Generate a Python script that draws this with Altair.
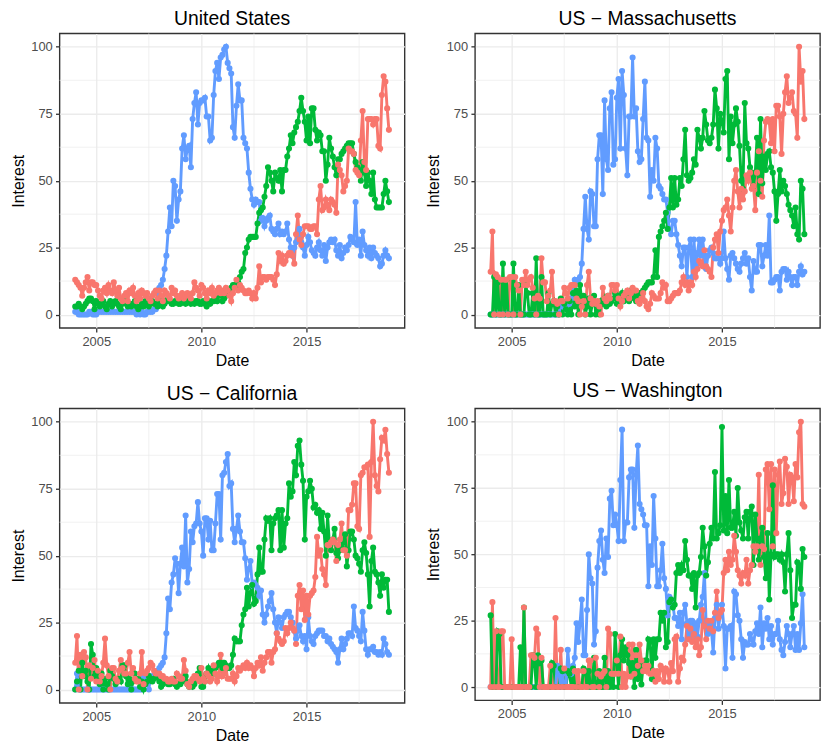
import altair as alt
import pandas as pd

# ---------------- data (monthly, Jan 2004 - Dec 2018) ----------------
START_YEAR = 2004
N_MONTHS = 180

US_BLUE = [
    1,1,0,0,0,0,0,0,1,1,0,0,
    0,1,1,1,1,1,1,1,1,1,1,1,
    1,1,1,1,1,1,1,1,1,1,1,0,
    1,0,1,0,0,1,1,1,1,2,2,3,
    10,11,13,17,22,31,40,33,50,48,35,43,
    46,62,67,58,62,63,55,73,79,83,71,79,
    80,80,81,74,74,65,66,82,91,94,88,96,
    97,99,100,94,92,90,70,66,78,86,80,80,
    66,64,62,53,47,43,41,43,42,42,35,36,
    33,35,36,37,32,31,30,32,34,30,31,30,
    31,34,28,25,22,25,27,30,32,27,25,22,
    26,29,27,24,23,22,25,27,24,22,26,20,
    25,27,28,27,28,24,22,26,21,23,25,24,
    26,29,28,27,42,26,28,22,31,26,24,22,
    25,21,25,23,22,21,18,19,22,24,22,21,
]
US_GREEN = [
    3,3,4,3,2,3,4,5,6,6,5,2,
    5,4,3,4,5,3,2,4,5,3,4,5,
    4,3,2,4,5,4,3,4,3,4,5,3,
    2,3,4,3,5,4,3,4,5,4,4,3,
    4,5,3,4,5,6,5,4,4,5,5,4,
    4,5,5,4,5,6,4,5,4,5,5,4,
    4,5,4,3,5,4,5,5,6,5,7,8,
    5,6,7,8,9,10,11,11,11,12,14,16,
    17,23,25,28,29,29,29,29,34,38,39,40,
    44,48,55,53,50,46,53,51,50,54,46,54,
    54,59,62,67,64,68,70,72,76,81,76,72,
    65,74,64,77,77,69,65,68,67,61,61,50,
    56,66,62,59,55,52,58,58,60,61,62,63,
    64,64,64,60,57,55,54,50,57,53,48,53,
    50,45,53,43,40,40,40,40,45,50,46,42,
]
US_RED = [
    13,12,11,10,7,10,12,14,9,12,12,11,
    11,9,7,6,9,10,8,11,9,8,12,9,
    7,10,6,5,7,8,5,9,8,10,7,5,
    8,6,9,8,7,8,6,5,7,8,9,6,
    9,7,5,9,8,7,6,10,8,9,7,6,
    7,8,6,7,8,7,6,8,12,10,9,7,
    11,10,8,6,9,8,10,7,8,9,10,8,
    9,8,10,9,7,5,8,10,13,9,11,10,
    9,8,8,9,8,6,8,6,10,18,12,14,
    14,13,14,14,14,13,11,15,23,20,22,19,
    20,22,23,23,22,19,30,37,28,26,30,33,
    33,33,32,32,33,33,30,43,48,39,40,43,
    41,39,43,42,41,38,56,54,52,46,48,50,
    62,61,61,60,54,53,52,65,76,57,54,73,
    73,73,71,73,73,63,62,82,89,87,77,69,
]

MA_BLUE = [
    0,0,0,0,0,0,0,0,0,0,0,0,
    0,0,0,0,0,0,0,0,0,0,0,0,
    0,0,0,0,0,0,0,0,0,0,0,0,
    0,0,0,0,5,3,4,3,5,4,6,10,
    13,12,13,14,19,32,44,32,28,46,45,33,
    33,58,67,67,45,80,58,54,77,83,56,58,
    81,88,62,91,82,62,52,74,74,96,74,77,
    61,57,58,73,87,66,65,44,54,50,66,62,
    48,47,45,43,43,38,32,30,35,35,30,26,
    22,18,25,25,14,25,28,14,28,18,23,28,
    22,28,22,17,22,24,25,23,21,21,21,19,
    21,31,21,17,13,22,23,21,19,17,16,19,
    21,23,19,21,14,9,20,16,16,26,26,18,
    22,26,22,37,12,12,13,14,14,9,16,17,
    17,13,16,14,11,14,14,11,16,18,15,16,
]
MA_GREEN = [
    0,0,14,0,12,0,0,19,0,13,0,0,
    0,19,0,0,11,0,0,0,11,8,0,0,
    8,0,21,0,0,14,0,0,0,8,0,4,
    5,0,3,0,6,0,4,2,0,5,0,8,
    3,9,0,11,5,7,0,3,6,0,4,7,
    0,3,0,5,4,6,3,7,4,5,6,8,
    4,7,6,8,5,6,7,5,9,8,6,5,
    7,8,8,9,10,11,12,12,12,14,24,14,
    29,31,33,35,38,32,40,51,40,51,41,43,
    51,48,58,69,52,50,51,53,58,56,69,66,
    62,66,76,71,65,64,66,71,84,77,62,75,
    72,68,88,91,58,74,64,71,77,72,63,50,
    47,79,64,62,55,53,48,53,66,45,73,49,
    59,54,60,61,55,53,46,35,45,54,46,50,
    48,45,41,39,37,33,40,30,28,50,47,30,
]
MA_RED = [
    16,31,0,15,14,0,13,0,13,13,0,14,
    14,0,14,11,9,0,13,11,16,11,13,14,
    10,6,0,7,6,21,12,12,5,7,9,16,
    5,5,4,0,5,5,10,8,6,10,11,11,
    11,6,5,0,3,5,0,11,16,6,4,5,
    4,5,3,0,10,6,5,7,6,11,11,9,
    11,6,3,5,7,8,9,6,8,10,9,9,
    5,4,6,8,5,3,2,4,8,7,6,6,
    6,8,12,10,11,5,5,6,7,8,8,8,
    9,12,14,11,12,9,12,11,16,14,17,20,
    19,18,24,18,17,16,14,25,28,30,23,31,
    35,39,40,43,37,31,40,50,54,46,40,47,
    43,46,52,50,53,47,48,39,53,61,50,44,
    65,72,73,72,64,73,61,78,78,74,60,75,
    83,89,79,81,83,76,75,66,100,87,91,73,
]

CA_BLUE = [
    0,6,0,0,0,0,0,0,0,0,0,0,
    0,0,0,0,0,0,0,0,0,0,0,0,
    0,0,0,0,0,0,0,0,0,0,0,0,
    0,0,0,5,3,4,0,5,4,5,6,7,
    8,9,10,12,21,34,30,40,43,49,47,36,
    47,53,46,65,40,45,59,55,61,62,70,62,
    59,50,64,64,56,63,52,52,62,73,73,56,
    80,81,85,88,76,77,60,55,60,65,59,55,
    55,49,41,45,48,39,40,39,38,35,37,28,
    25,28,31,33,36,30,25,21,27,25,23,27,
    28,29,29,27,25,22,19,22,24,20,18,20,
    15,27,20,18,17,20,21,22,22,22,20,20,
    18,19,17,16,15,14,10,15,19,15,17,19,
    21,21,20,31,23,22,20,18,29,22,15,13,
    15,15,16,14,14,13,14,13,19,17,14,13,
]
CA_GREEN = [
    0,3,7,0,10,5,7,3,0,17,13,5,
    8,5,2,6,0,4,2,0,7,5,4,2,
    3,4,3,9,9,5,2,4,0,3,6,4,
    4,1,3,0,2,3,5,4,3,4,6,5,
    3,1,2,3,3,2,2,3,4,2,1,2,
    2,3,4,5,2,1,3,1,2,4,6,8,
    1,1,3,6,8,5,7,6,8,9,10,10,
    8,10,9,8,8,9,13,19,18,18,18,24,
    28,30,38,31,36,39,32,33,43,53,44,44,
    56,64,63,64,52,62,64,65,67,52,67,53,
    62,64,77,72,74,85,80,91,93,84,78,56,
    72,74,78,75,68,69,66,67,60,66,59,50,
    65,55,52,56,60,51,49,52,53,55,58,46,
    52,59,59,56,50,49,47,44,52,55,51,43,
    31,48,53,44,43,40,35,43,38,41,41,29,
]
CA_RED = [
    10,20,0,13,5,14,12,0,9,4,8,11,
    3,7,3,5,10,19,9,5,0,8,8,4,
    3,7,11,8,6,6,10,14,6,8,4,3,
    3,6,14,2,6,7,8,10,9,7,6,6,
    6,5,5,4,4,3,3,4,3,3,6,5,
    4,4,11,7,2,1,3,4,5,5,4,3,
    8,4,3,6,5,3,4,9,6,3,5,13,
    5,6,8,4,4,4,6,3,5,8,7,8,
    9,8,10,8,9,8,5,8,10,9,12,7,
    10,12,14,14,10,14,15,21,19,18,17,18,
    23,21,23,25,23,22,17,35,39,30,37,26,
    35,28,35,36,37,42,57,50,52,45,43,39,
    54,54,55,56,55,48,54,56,62,52,52,50,
    67,67,69,77,77,61,60,80,81,83,83,84,
    57,85,100,80,76,74,86,94,93,97,88,81,
]

WA_BLUE = [
    0,0,0,0,0,0,0,0,0,0,0,0,
    0,0,0,0,0,0,0,0,0,0,0,0,
    0,0,0,0,0,0,0,0,0,0,0,0,
    0,0,8,5,0,5,0,0,14,6,5,8,
    11,24,17,24,33,12,12,29,50,41,39,16,
    21,45,55,59,48,43,56,49,71,74,61,65,
    61,55,78,97,55,62,62,79,82,82,60,80,
    91,69,67,65,61,61,38,53,46,72,56,38,
    38,44,54,41,37,27,34,33,31,26,26,23,
    28,18,28,31,24,18,25,25,21,24,19,25,
    31,34,43,23,20,24,21,13,26,31,22,27,
    31,23,7,22,22,23,11,36,35,27,25,18,
    11,17,16,16,20,18,16,21,24,20,30,15,
    24,22,26,18,23,16,20,20,25,18,14,12,
    17,23,20,15,20,23,14,20,14,24,35,15,
]
WA_GREEN = [
    27,0,0,0,21,20,0,0,0,0,0,0,
    0,0,0,0,0,15,0,30,0,0,0,0,
    12,10,0,12,9,10,0,0,0,0,0,9,
    8,0,0,0,7,6,0,0,6,5,0,7,
    0,0,0,0,0,7,6,0,6,0,0,11,
    0,0,6,0,0,11,0,6,0,5,0,20,
    9,0,12,18,10,15,12,9,4,9,0,14,
    3,8,1,8,10,10,18,17,3,18,11,18,
    18,28,25,28,15,17,32,33,30,31,43,46,
    43,46,44,55,48,42,42,37,43,30,42,43,
    49,60,53,42,47,54,60,56,81,56,58,61,
    98,59,72,58,78,60,60,66,57,75,62,59,
    56,64,66,56,66,68,46,65,56,48,56,60,
    49,41,58,33,50,76,49,50,50,48,50,47,
    36,50,58,44,26,31,31,47,46,37,52,49,
]
WA_RED = [
    0,32,0,21,0,0,21,21,0,0,0,0,
    18,0,0,0,0,0,0,30,0,0,0,12,
    12,11,22,20,0,11,0,0,0,0,8,0,
    0,26,0,0,14,0,7,0,0,0,0,0,
    6,0,6,0,0,6,0,0,10,10,0,0,
    11,5,0,4,5,6,0,22,20,5,5,5,
    10,5,19,0,5,0,4,16,4,16,5,12,
    8,16,10,6,8,6,8,5,5,6,2,6,
    3,8,7,2,7,6,2,9,6,18,19,2,
    7,11,10,16,23,18,22,17,20,15,18,12,
    15,29,23,18,25,22,25,21,28,36,26,28,
    29,43,48,44,51,46,48,57,51,44,42,39,
    43,42,48,39,44,46,53,51,53,80,46,53,
    52,82,84,67,84,53,82,58,80,85,69,73,
    86,83,69,80,79,70,84,79,96,100,69,68,
]

REGIONS = ["United States", "US \u2212 Massachusetts", "US \u2212 California", "US \u2212 Washington"]
KEYWORDS = ["Keyword A", "Keyword B", "Keyword C"]          # red, green, blue
COLORS = ["#F8766D", "#00BA38", "#619CFF"]
SERIES = {
    REGIONS[0]: [US_RED, US_GREEN, US_BLUE],
    REGIONS[1]: [MA_RED, MA_GREEN, MA_BLUE],
    REGIONS[2]: [CA_RED, CA_GREEN, CA_BLUE],
    REGIONS[3]: [WA_RED, WA_GREEN, WA_BLUE],
}
X_TICKS = [2005, 2010, 2015]
X_MINOR = [2007.5, 2012.5, 2017.5]
Y_TICKS = [0, 25, 50, 75, 100]
Y_MINOR = [12.5, 37.5, 62.5, 87.5]

dates = [START_YEAR + i / 12 for i in range(N_MONTHS)]
rows = []
for region, lists in SERIES.items():
    for kw, vals in zip(KEYWORDS, lists):
        for d, v in zip(dates, vals):
            rows.append({"region": region, "keyword": kw, "Date": d, "Interest": v})
df = pd.DataFrame(rows)

span = dates[-1] - dates[0]
X_DOMAIN = [dates[0] - 0.05 * span, dates[-1] + 0.05 * span]
Y_DOMAIN = [-5, 105]

FONT = "Liberation Sans"
GRID = "#EBEBEB"
DARK = "#333333"

x_axis = alt.Axis(values=X_TICKS, format="d", title="Date", grid=True, gridColor=GRID,
                  gridWidth=1.3, domain=False, tickColor=DARK, tickWidth=1.3, tickSize=4.1,
                  labelPadding=3.3, titlePadding=4.1)
y_axis = alt.Axis(values=Y_TICKS, format="d", title="Interest", grid=True, gridColor=GRID,
                  gridWidth=1.3, domain=False, tickColor=DARK, tickWidth=1.3, tickSize=4.1,
                  labelPadding=3.3, titlePadding=4.1, minExtent=29.5, maxExtent=29.5)
xs = alt.Scale(domain=X_DOMAIN, nice=False, zero=False)
ys = alt.Scale(domain=Y_DOMAIN, nice=False, zero=False)


def panel(region, height, title_offset):
    sub = df[df.region == region]
    X = alt.X("Date:Q", scale=xs, axis=x_axis)
    Y = alt.Y("Interest:Q", scale=ys, axis=y_axis)
    vminor = alt.Chart(pd.DataFrame({"Date": X_MINOR})).mark_rule(
        color=GRID, strokeWidth=0.7).encode(x=X)
    hminor = alt.Chart(pd.DataFrame({"Interest": Y_MINOR})).mark_rule(
        color=GRID, strokeWidth=0.7).encode(y=Y)
    lines = []
    for kw, col in zip(KEYWORDS, COLORS):
        lines.append(alt.Chart(sub[sub.keyword == kw]).mark_line(
            color=col, strokeWidth=2.9).encode(x=X, y=Y))
    points = []
    for kw, col in reversed(list(zip(KEYWORDS, COLORS))):
        points.append(alt.Chart(sub[sub.keyword == kw]).mark_circle(
            color=col, size=38, opacity=1).encode(x=X, y=Y))
    return alt.layer(vminor, hminor, *lines, *points).properties(
        width=348, height=height,
        title=alt.TitleParams(region, fontSize=19.5, font=FONT, fontWeight="normal",
                              anchor="middle", frame="group", offset=title_offset,
                              color="black"))


p1 = panel(REGIONS[0], 297, 3.7)
p2 = panel(REGIONS[1], 297, 3.7)
p3 = panel(REGIONS[2], 297, 3.7)
p4 = panel(REGIONS[3], 294.4, 6.3)

chart = alt.vconcat(
    alt.hconcat(p1, p2, spacing=18),
    alt.hconcat(p3, p4, spacing=18),
    spacing=11.2,
).properties(
    padding={"left": 1, "top": -3.5, "right": 0, "bottom": 0},
    background="white",
).configure_view(
    stroke=DARK, strokeWidth=1.4
).configure_axis(
    labelFont=FONT, labelFontSize=13, labelColor="#4D4D4D",
    titleFont=FONT, titleFontSize=16, titleFontWeight="normal", titleColor="black",
)

chart.save("out.html", embed_options={"renderer": "svg", "actions": False})
